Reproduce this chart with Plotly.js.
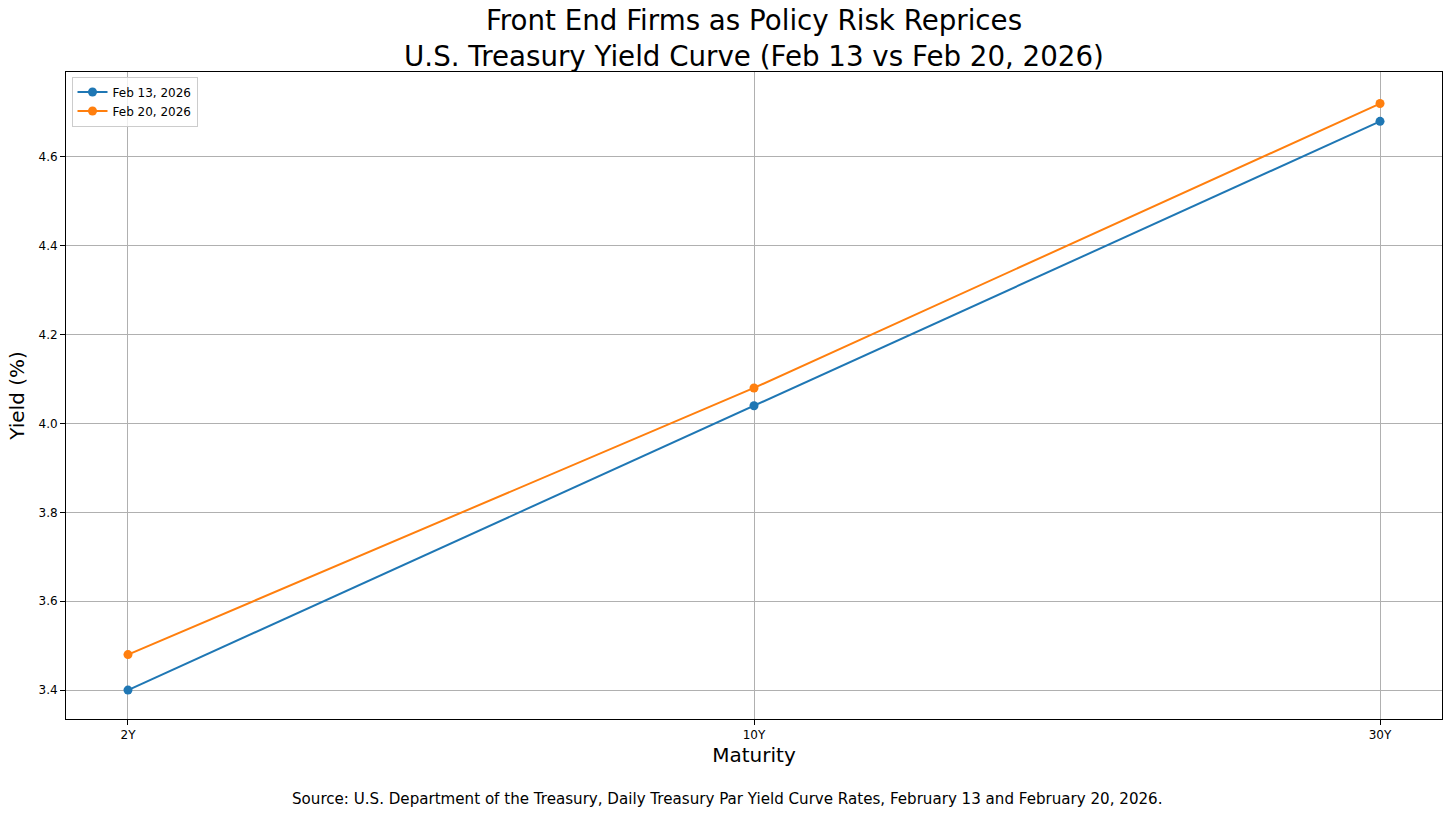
<!DOCTYPE html>
<html>
<head>
<meta charset="utf-8">
<script src="https://cdn.plot.ly/plotly-3.0.1.min.js"></script>
<style>html,body{margin:0;padding:0;background:#fff;}#chart{width:1456px;height:819px;}</style>
</head>
<body>
<div id="chart"></div>
<script>
const maturities = ["2Y", "10Y", "30Y"];
const feb13 = [3.40, 4.04, 4.68];
const feb20 = [3.48, 4.08, 4.72];
const yTicks = [3.4, 3.6, 3.8, 4.0, 4.2, 4.4, 4.6];
const yTickLabels = ["3.4", "3.6", "3.8", "4.0", "4.2", "4.4", "4.6"];

const font = "DejaVu Sans, sans-serif";
const traces = [
  {x: maturities, y: feb13, name: "Feb 13, 2026", mode: "lines+markers",
   line: {color: "#1f77b4", width: 2}, marker: {color: "#1f77b4", size: 9}},
  {x: maturities, y: feb20, name: "Feb 20, 2026", mode: "lines+markers",
   line: {color: "#ff7f0e", width: 2}, marker: {color: "#ff7f0e", size: 9}}
];
const layout = {
  width: 1456, height: 819,
  paper_bgcolor: "#fff", plot_bgcolor: "#fff",
  margin: {l: 66, r: 14, t: 72, b: 100},
  font: {family: font, color: "#000"},
  title: {text: "Front End Firms as Policy Risk Reprices<br>U.S. Treasury Yield Curve (Feb 13 vs Feb 20, 2026)",
          font: {family: font, size: 27.7, color: "#000"}, xref: "paper", x: 0.5, xanchor: "center",
          y: 0.963, yanchor: "top"},
  xaxis: {type: "category", range: [-0.099, 2.099], showgrid: true, gridcolor: "#b0b0b0", gridwidth: 1,
          ticks: "outside", ticklen: 5, tickcolor: "#000", tickfont: {size: 12, family: font},
          showline: true, linecolor: "#000", linewidth: 1, mirror: true, zeroline: false,
          title: {text: "Maturity", font: {size: 20, family: font}, standoff: 6}},
  yaxis: {range: [3.335, 4.791], tickvals: yTicks, ticktext: yTickLabels, showgrid: true,
          gridcolor: "#b0b0b0", gridwidth: 1, ticks: "outside", ticklen: 5, tickcolor: "#000",
          tickfont: {size: 12, family: font}, showline: true, linecolor: "#000", linewidth: 1,
          mirror: true, zeroline: false,
          title: {text: "Yield (%)", font: {size: 20, family: font}, standoff: 8}},
  legend: {x: 0.004, y: 0.993, xanchor: "left", yanchor: "top", bgcolor: "rgba(255,255,255,0.8)",
           bordercolor: "#cccccc", borderwidth: 1, font: {size: 12, family: font}},
  showlegend: true,
  annotations: [{text: "Source: U.S. Department of the Treasury, Daily Treasury Par Yield Curve Rates, February 13 and February 20, 2026.",
                 xref: "paper", yref: "paper", x: 0.481, y: -0.123, xanchor: "center", yanchor: "middle",
                 showarrow: false, font: {size: 15.1, family: font, color: "#000"}}]
};
Plotly.newPlot("chart", traces, layout, {displayModeBar: false});
</script>
</body>
</html>
